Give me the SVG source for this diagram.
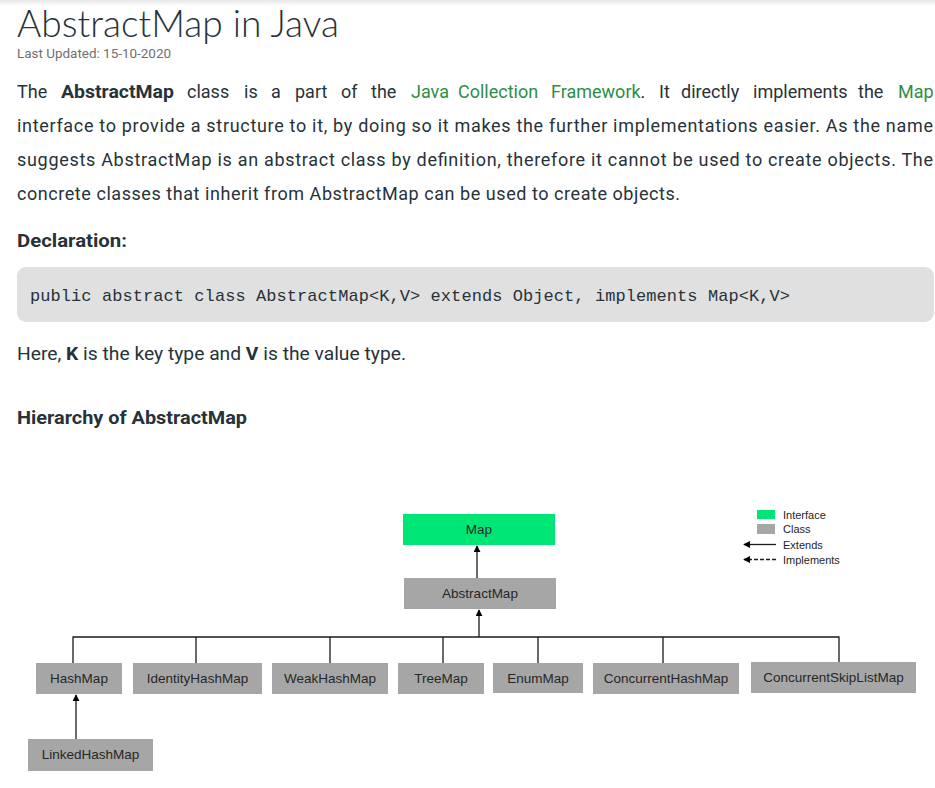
<svg xmlns="http://www.w3.org/2000/svg" width="935" height="788" viewBox="0 0 935 788">
<defs>
<linearGradient id="topShade" x1="0" y1="0" x2="0" y2="1">
<stop offset="0" stop-color="#e6e6e6"/>
<stop offset="1" stop-color="#ffffff"/>
</linearGradient>
<marker id="arr" viewBox="0 0 8 8" refX="7" refY="4" markerWidth="7" markerHeight="7" markerUnits="userSpaceOnUse" orient="auto">
<path d="M0,0 L8,4 L0,8 Z" fill="#000"/>
</marker>
<style>
.body{font-family:"Roboto","Liberation Sans",sans-serif;font-size:18px;fill:#273239}
.b{font-weight:bold}
.g{fill:#2f8d46}
.title{font-family:"Lato","Liberation Sans",sans-serif;font-size:37px;fill:#273239;font-weight:300}
.meta{font-family:"Roboto","Liberation Sans",sans-serif;font-size:12.5px;fill:#6f6f6f}
.h{font-family:"Roboto","Liberation Sans",sans-serif;font-size:18px;font-weight:bold;fill:#273239}
.code{font-family:"Liberation Mono","DejaVu Sans Mono",monospace;font-size:17px;fill:#273239}
.iface{fill:#00e676}
.cls{fill:#a6a6a6}
.lbl{font-family:"Liberation Sans",sans-serif;font-size:13.5px;fill:#262626;text-anchor:middle}
.leg{font-family:"Liberation Sans",sans-serif;font-size:11px;fill:#262626}
.ln{stroke:#1a1a1a;stroke-width:1.3;fill:none}
</style>
</defs>
<rect x="0" y="0" width="935" height="788" fill="#ffffff"/>
<rect x="0" y="0" width="935" height="6" fill="url(#topShade)"/>

<text class="title" x="17" y="37" textLength="322" lengthAdjust="spacingAndGlyphs">AbstractMap in Java</text>
<text class="meta" x="17" y="58" textLength="154" lengthAdjust="spacingAndGlyphs">Last Updated: 15-10-2020</text>

<text class="body" y="98"><tspan x="17">The</tspan><tspan x="187">class</tspan><tspan x="244">is</tspan><tspan x="271">a</tspan><tspan x="295">part</tspan><tspan x="341">of</tspan><tspan x="371">the</tspan><tspan x="411" class="g">Java</tspan><tspan x="458" class="g">Collection</tspan><tspan x="551" class="g">Framework</tspan><tspan>.</tspan><tspan x="659">It</tspan><tspan x="681">directly</tspan><tspan x="753">implements</tspan><tspan x="858">the</tspan><tspan x="898" class="g">Map</tspan></text>
<text class="body b" x="61" y="98" textLength="113" lengthAdjust="spacingAndGlyphs">AbstractMap</text>
<text class="body" x="17" y="132" textLength="916" lengthAdjust="spacing">interface to provide a structure to it, by doing so it makes the further implementations easier. As the name</text>
<text class="body" x="17" y="166" textLength="916" lengthAdjust="spacing">suggests AbstractMap is an abstract class by definition, therefore it cannot be used to create objects. The</text>
<text class="body" x="17" y="200" textLength="663" lengthAdjust="spacing">concrete classes that inherit from AbstractMap can be used to create objects.</text>

<text class="h" x="17" y="247" textLength="110" lengthAdjust="spacingAndGlyphs">Declaration:</text>
<rect x="17" y="267" width="917" height="55" rx="9" fill="#e0e0e0"/>
<text class="code" x="30" y="301" textLength="760" lengthAdjust="spacing">public abstract class AbstractMap&lt;K,V&gt; extends Object, implements Map&lt;K,V&gt;</text>

<text class="body" y="360" x="17" textLength="389" lengthAdjust="spacingAndGlyphs"><tspan>Here, </tspan><tspan class="b">K</tspan><tspan> is the key type and </tspan><tspan class="b">V</tspan><tspan> is the value type.</tspan></text>

<text class="h" x="17" y="424" textLength="230" lengthAdjust="spacingAndGlyphs">Hierarchy of AbstractMap</text>

<g id="connectors">
<line class="ln" x1="477" y1="578" x2="477" y2="546" marker-end="url(#arr)"/>
<line class="ln" x1="479" y1="637" x2="479" y2="610" marker-end="url(#arr)"/>
<polyline class="ln" points="73,663 73,637 839,637 839,662"/>
<line class="ln" x1="196" y1="637" x2="196" y2="663"/>
<line class="ln" x1="330" y1="637" x2="330" y2="663"/>
<line class="ln" x1="443" y1="637" x2="443" y2="663"/>
<line class="ln" x1="538" y1="637" x2="538" y2="663"/>
<line class="ln" x1="663" y1="637" x2="663" y2="663"/>
<line class="ln" x1="76" y1="739" x2="76" y2="695" marker-end="url(#arr)"/>
</g>

<g id="node-map"><rect class="iface" x="403" y="514" width="152" height="31"/><text class="lbl" x="479" y="534">Map</text></g>
<g id="node-abstractmap"><rect class="cls" x="404" y="578" width="152" height="31"/><text class="lbl" x="480" y="598">AbstractMap</text></g>
<g id="node-hashmap"><rect class="cls" x="36" y="663" width="86" height="31"/><text class="lbl" x="79" y="683">HashMap</text></g>
<g id="node-identityhashmap"><rect class="cls" x="133" y="663" width="129" height="31"/><text class="lbl" x="197.5" y="683">IdentityHashMap</text></g>
<g id="node-weakhashmap"><rect class="cls" x="272" y="663" width="116" height="31"/><text class="lbl" x="330" y="683">WeakHashMap</text></g>
<g id="node-treemap"><rect class="cls" x="398" y="663" width="86" height="31"/><text class="lbl" x="441" y="683">TreeMap</text></g>
<g id="node-enummap"><rect class="cls" x="493" y="663" width="90" height="30"/><text class="lbl" x="538" y="683">EnumMap</text></g>
<g id="node-concurrenthashmap"><rect class="cls" x="593" y="663" width="146" height="31"/><text class="lbl" x="666" y="683">ConcurrentHashMap</text></g>
<g id="node-concurrentskiplistmap"><rect class="cls" x="751" y="662" width="165" height="31"/><text class="lbl" x="833.5" y="682">ConcurrentSkipListMap</text></g>
<g id="node-linkedhashmap"><rect class="cls" x="28" y="739" width="125" height="32"/><text class="lbl" x="90.5" y="759">LinkedHashMap</text></g>

<g id="legend">
<rect class="iface" x="757" y="510" width="18" height="9"/>
<text class="leg" x="783" y="518.5">Interface</text>
<rect class="cls" x="757" y="524" width="18" height="10"/>
<text class="leg" x="783" y="533">Class</text>
<line class="ln" x1="776" y1="544.5" x2="744" y2="544.5" stroke-width="1.6" marker-end="url(#arr)"/>
<text class="leg" x="783" y="548.5">Extends</text>
<line class="ln" x1="776" y1="559.5" x2="744" y2="559.5" stroke-width="1.6" stroke-dasharray="4,2" marker-end="url(#arr)"/>
<text class="leg" x="783" y="563.5">Implements</text>
</g>
</svg>
